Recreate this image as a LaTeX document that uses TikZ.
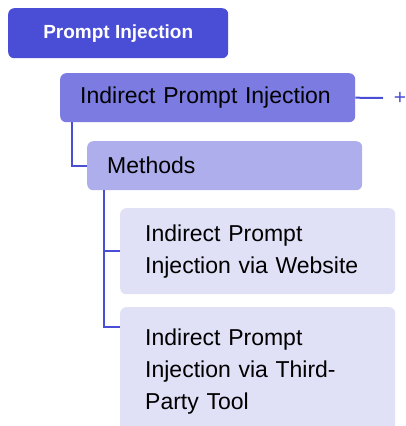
\documentclass[tikz,border=0pt]{standalone}
\usepackage{fontspec}
\setmainfont{Liberation Sans}
\definecolor{c1}{HTML}{4A4ED6}
\definecolor{c2}{HTML}{7B7BE1}
\definecolor{c3}{HTML}{AEAEEC}
\definecolor{c4}{HTML}{E0E0F7}
\begin{document}
\begin{tikzpicture}[x=1pt,y=-1pt,
  box/.style={anchor=north west,rounded corners=6pt,inner ysep=0pt,align=left,font=\fontsize{23}{32}\selectfont},
  link/.style={draw=c1,line width=2pt}]
\useasboundingbox (0,0) rectangle (406,426);
\clip (0,0) rectangle (406,426);
\node[box,fill=c1,text=white,minimum width=220pt,minimum height=50pt,inner xsep=0pt,align=center,font=\fontsize{19}{22}\bfseries] (root) at (8,8) {Prompt Injection};
\node[box,fill=c2,minimum width=295pt,minimum height=49pt,inner xsep=0pt,text width=295pt] (ipi) at (60,73) {\hspace*{20pt}Indirect Prompt Injection};
\node[box,fill=c3,minimum width=275pt,minimum height=49pt,inner xsep=0pt,text width=275pt] (meth) at (87,141) {\hspace*{20pt}Methods};
\node[box,fill=c4,minimum width=275pt,minimum height=86pt,inner xsep=25pt,text width=225pt] (web) at (120,208) {Indirect Prompt\\Injection via Website};
\node[box,fill=c4,minimum width=275pt,minimum height=128pt,inner xsep=25pt,text width=225pt] (tool) at (120,307) {Indirect Prompt\\Injection via Third-\\Party Tool};
\coordinate (pe) at (383,98);
\node[text=c1,font=\fontsize{21}{22}\selectfont,inner sep=0pt] (plus) at (400,98) {+};
\draw[link] (ipi.east) -- (pe);
\draw[link] (ipi.south west) ++(12,0) |- (meth.west);
\draw[link] (meth.south west) ++(17,0) |- (web.west);
\draw[link] (meth.south west) ++(17,0) |- ([yshift=-20pt]tool.north west);
\end{tikzpicture}
\end{document}
